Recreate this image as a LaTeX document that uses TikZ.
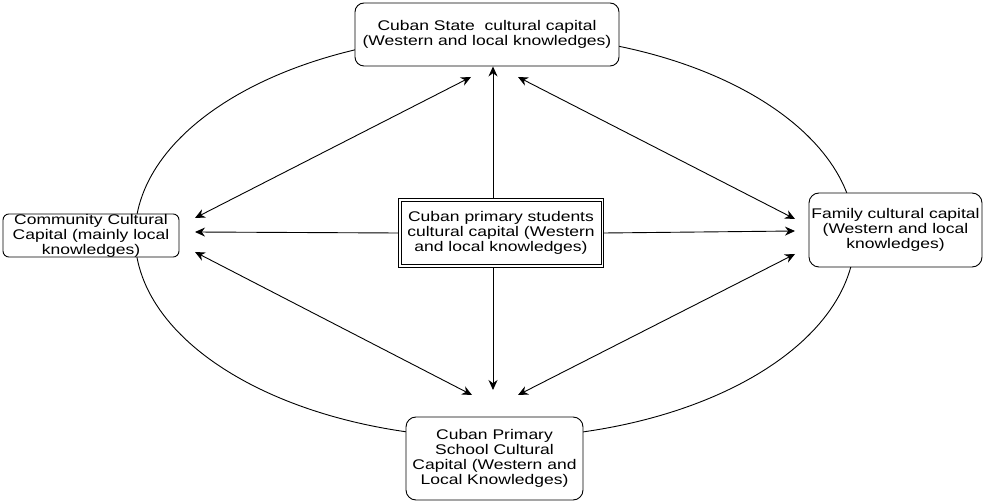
\documentclass[tikz,border=0pt]{standalone}
\usepackage{fontspec}
\setmainfont{Liberation Sans}[FakeStretch=1.25]
\usetikzlibrary{arrows.meta}
\begin{document}
\begin{tikzpicture}[x=1pt,y=-1pt,
  txt/.style={align=center, inner sep=0pt, font=\fontsize{14}{15}\selectfont},
  box/.style={txt, draw, rounded corners=9pt, fill=white, line width=0.9pt},
  dbox/.style={txt, draw, line width=0.9pt, fill=white},
  tip/.tip={Stealth[length=10pt,width=9pt]},
  arr/.style={line width=0.9pt, -tip},
  darr/.style={line width=0.9pt, tip-tip}]
\useasboundingbox (0,0) rectangle (986,502);
\draw[line width=0.9pt] (495,236) ellipse [x radius=360, y radius=202];

\node[box, minimum width=264pt, minimum height=63pt] (state) at (487,34.5)
  {Cuban State~ cultural capital\\(Western and local knowledges)};
\node[box, rounded corners=6pt, minimum width=176pt, minimum height=43pt] (comm) at (91,235.5)
  {Community Cultural\\Capital (mainly local\\knowledges)};
\node[box, rounded corners=10pt, minimum width=173pt, minimum height=74pt] (fam) at (895.5,230)
  {Family cultural capital\\(Western and local\\knowledges)};
\node[box, rounded corners=10pt, minimum width=177pt, minimum height=83pt] (school) at (494.5,458.5)
  {Cuban Primary\\School Cultural\\Capital (Western and\\Local Knowledges)};
\node[dbox, minimum width=205pt, minimum height=69pt] (stud) at (501,233)
  {Cuban primary students\\cultural capital (Western\\and local knowledges)};
\draw[line width=0.9pt] ([xshift=3pt,yshift=-3pt]stud.north west) rectangle ([xshift=-3pt,yshift=3pt]stud.south east);

\coordinate (vx) at (493,0);
\coordinate (sd) at (493,390);
\coordinate (lh) at (195,232);
\coordinate (rh) at (795,231);
\coordinate (l1) at (195,218);
\coordinate (t1) at (471,77);
\coordinate (t2) at (518,77);
\coordinate (r1) at (795,219);
\coordinate (l2) at (195,252);
\coordinate (b1) at (472,395);
\coordinate (b2) at (518,395);
\coordinate (r2) at (795,254);

\draw[arr] (vx |- stud.north) -- (vx |- state.south);
\draw[arr] (vx |- stud.south) -- (sd);
\draw[arr] (stud.west) -- (lh);
\draw[arr] (stud.east) -- (rh);
\draw[darr] (l1) -- (t1);
\draw[darr] (t2) -- (r1);
\draw[darr] (l2) -- (b1);
\draw[darr] (b2) -- (r2);
\end{tikzpicture}
\end{document}
